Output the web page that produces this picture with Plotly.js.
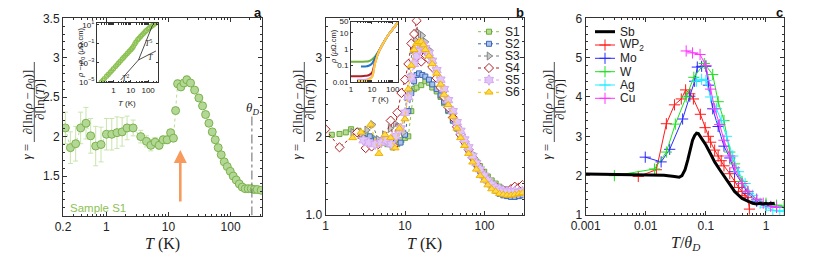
<!DOCTYPE html>
<html><head><meta charset="utf-8">
<script src="https://cdn.plot.ly/plotly-3.0.1.min.js"></script>
<style>html,body{margin:0;padding:0;background:#fff}</style>
</head><body><div id="chart" style="width:830px;height:257px"></div>
<script>
// ---------- Panel a : sample S1 ----------
const aT = [0.218,0.263,0.32,0.385,0.469,0.558,0.672,0.819,1.0,1.22,1.48,1.79,2.15,2.69,3.57,4.42,5.19,6.08,7.06,8.19,9.5,10.8,12.0,13.0,14.0,15.8,17.7,19.7,22.6,26.3,30.8,35.3,39.5,44.7,50.6,56.5,63.1,70.6,78.9,88.2,98.6,110,123,138,154,172,192,215,240,268,310];
const aG = [2.11,1.86,1.91,2.11,2.17,2.01,1.88,1.90,2.03,2.03,2.05,2.06,2.11,2.11,2.0,1.94,1.89,1.93,1.89,1.96,1.96,2.05,1.98,2.33,2.67,2.63,2.68,2.72,2.68,2.59,2.49,2.39,2.28,2.17,2.06,1.96,1.86,1.77,1.68,1.62,1.56,1.50,1.45,1.40,1.36,1.34,1.34,1.34,1.33,1.33,1.32];
const aErr = [0.2,0.2,0.22,0.2,0.2,0.22,0.25,0.22,0.2,0.2,0.2,0.18,0.15,0.1,0.08,0.07,0.07,0.06,0.05,0.05,0.05,0.04,0.04,0.04,0.05,0.04,0.04,0.05,0.04,0.02,0.02,0.02,0.02,0.02,0.02,0.02,0.02,0.02,0.02,0.02,0.02,0.02,0.02,0.02,0.02,0.02,0.02,0.02,0.02,0.02,0.02];
const thetaD = 220;
const thetaLineY = [1, 2.28];
// inset a : rho - rho0 vs T
const iaT = [0.2,0.25,0.3,0.4,0.5,0.65,0.8,1,1.3,1.6,2,2.5,3.2,4,5,6.3,8,10,12,14,17,20,25,30,37,45,55,67,80,100,120,150,180,220,260,300];
const iaR = [1e-5,1.6e-5,2.3e-5,4e-5,6.3e-5,1.05e-4,1.6e-4,2.5e-4,4.2e-4,6.4e-4,1e-3,1.6e-3,2.6e-3,4e-3,6.3e-3,1e-2,1.6e-2,2.5e-2,3.6e-2,5.5e-2,0.1,0.16,0.28,0.4,0.62,0.9,1.3,1.9,2.6,3.8,5.0,6.8,8.8,11.5,14.5,17.5];
const lineT2 = {T:[2.6,28], R:[1.6e-5,2.1e-3]};
const lineT5 = {T:[28,182], R:[2.1e-3,10]};
const lineT1 = {T:[28,282], R:[2.1e-3,1.8e-2]};

// ---------- Panel b : samples S1..S6 ----------
const bNames = ['S1','S2','S3','S4','S5','S6'];
const bT1 = [1.2,1.5,1.8,2.1,2.6,3.2,3.8,4.5,5.2,6,7,8,9,10,11,12,13,14,16,18,20,22,25,28,31,35,40,45,50,56,63,71,79,88,99,110,123,138,154,172,192,215,240,270,300];
const bG1 = [2.02,2.03,2.05,2.09,2.07,2.03,1.98,1.93,1.92,1.9,1.86,1.9,1.95,1.98,2.0,2.32,2.6,2.62,2.65,2.7,2.68,2.62,2.57,2.5,2.42,2.32,2.2,2.1,2.02,1.94,1.85,1.76,1.68,1.62,1.55,1.49,1.44,1.4,1.36,1.33,1.31,1.29,1.28,1.27,1.27];
const bT2 = [3,3.6,4.3,5,5.8,6.7,7.7,8.8,10,11,12,13,14,15,16.5,18,20,22,25,28,31,35,40,45,50,56,63,71,79,88,99,110,123,138,154,172,192,215,240,270,300];
const bG2 = [1.98,2.0,1.96,1.92,1.94,1.9,1.96,1.92,2.02,2.32,2.55,2.7,2.78,2.8,2.78,2.76,2.72,2.66,2.6,2.52,2.44,2.33,2.2,2.1,2.0,1.92,1.82,1.73,1.64,1.56,1.48,1.42,1.36,1.31,1.27,1.25,1.24,1.23,1.23,1.24,1.25];
const bT3 = [2.2,2.7,3.3,3.9,4.6,5.5,6.5,7.5,8.5,9.5,10.5,11.5,12.5,13.5,14.5,15.5,16.5,18,20,22,25,28,31,35,40,45,50,56,63,71,79,88,99,110,123,138,154,172,192,215,240,270,300];
const bG3 = [2.05,2.02,2.08,2.15,1.96,2.02,2.1,2.16,2.12,2.05,2.5,2.9,3.1,3.22,3.32,3.3,3.28,3.2,3.1,2.98,2.84,2.7,2.57,2.44,2.28,2.14,2.03,1.94,1.83,1.73,1.64,1.56,1.49,1.42,1.37,1.33,1.3,1.28,1.27,1.27,1.28,1.29,1.3];
const bT4 = [1.0,1.5,2.5,3.2,3.8,4.6,5.5,6.6,7.2,8,9,10,11,12,13,14,15,16,17,18.5,20,22,25,28,31,35,40,45,50,56,63,71,79,88,99,110,123,138,154,172,192,215,240,270,300];
const bG4 = [2.09,1.86,2.05,1.85,1.87,1.9,1.95,2.2,1.88,2.3,2.55,2.72,2.92,3.18,3.3,3.47,3.0,2.95,3.12,3.08,2.98,2.88,2.74,2.62,2.5,2.37,2.24,2.12,2.02,1.93,1.83,1.73,1.65,1.57,1.5,1.44,1.39,1.36,1.33,1.32,1.31,1.33,1.36,1.35,1.38];
const bT5 = [3,3.5,4.2,5,5.8,6.7,7.7,8.8,10,11,12,13,14,15,16,17,18,20,22,25,28,31,35,40,45,50,56,63,71,79,88,99,110,123,138,154,172,192,215,240,270,300];
const bG5 = [1.95,1.92,1.9,1.92,1.95,1.9,2.0,2.1,2.3,2.5,2.75,2.92,3.02,3.1,3.15,3.16,3.12,3.06,2.96,2.84,2.72,2.6,2.46,2.32,2.18,2.07,1.96,1.86,1.75,1.66,1.58,1.5,1.44,1.39,1.35,1.33,1.31,1.3,1.3,1.3,1.29,1.3];
const bT6 = [2.2,2.8,3.7,4.7,5.6,6.6,7.5,8.5,10,11,12,13,14,15,16,17,18,20,22,25,28,31,35,40,45,50,56,63,71,79,88,99,110,123,138,154,172,192,215,240,270,300];
const bG6 = [1.98,2.05,2.15,1.78,2.02,1.98,1.85,2.1,2.22,2.6,2.9,3.1,3.18,3.2,3.2,3.16,3.1,3.02,2.92,2.8,2.66,2.53,2.4,2.25,2.1,1.98,1.88,1.78,1.67,1.58,1.5,1.44,1.38,1.33,1.3,1.27,1.26,1.25,1.25,1.26,1.27,1.28];
// inset b : rho vs T
const ibT = [1,1.5,2,3,5,7,10,14,20,30,50,70,100,140,180];
const ibR1 = [0.17,0.17,0.17,0.17,0.175,0.18,0.23,0.35,0.7,1.7,5,9.5,17,30,48];
const ibR2 = [null,null,null,0.085,0.087,0.095,0.13,0.28,0.63,1.65,5,9.5,17,30,48];
const ibR3 = [null,null,0.012,0.012,0.012,0.014,0.02,0.13,0.56,1.6,5,9.5,17,30,48];
const ibR4 = [0.022,0.022,0.022,0.022,0.023,0.025,0.035,0.16,0.58,1.6,5,9.5,17,30,48];
const ibR5 = [null,null,0.013,0.013,0.013,0.015,0.02,0.13,0.56,1.6,5,9.5,17,30,48];
const ibR6 = [null,null,0.011,0.011,0.011,0.013,0.018,0.12,0.55,1.6,5,9.5,17,30,48];

// ---------- Panel c : comparison ----------
const cNames = ['Sb','WP<sub>2</sub>','Mo','W','Ag','Cu'];
const cSbX = [0.001,0.003,0.01,0.02,0.03,0.036,0.04,0.045,0.05,0.055,0.06,0.065,0.07,0.075,0.08,0.09,0.1,0.12,0.14,0.17,0.2,0.25,0.3,0.35,0.4,0.5,0.6,0.7,0.8,0.9,1.0,1.1,1.2,1.3,1.4];
const cSbY = [2.04,2.03,2.02,2.01,1.98,1.96,2.0,2.15,2.4,2.7,2.9,3.02,3.08,3.07,3.0,2.9,2.78,2.55,2.35,2.15,1.98,1.78,1.6,1.5,1.42,1.35,1.3,1.28,1.3,1.28,1.3,1.28,1.3,1.29,1.3];
const cWP2X = [0.0075,0.015,0.022,0.03,0.039,0.046,0.054,0.062,0.081,0.097,0.11,0.12,0.14,0.16,0.18,0.2,0.25,0.3,0.35,0.4,0.45,0.5,0.53];
const cWP2Y = [1.98,2.15,3.32,3.8,3.95,4.18,4.08,3.95,3.56,3.22,3.0,2.85,2.65,2.5,2.38,2.25,2.05,1.85,1.7,1.6,1.5,1.45,1.15];
const cMoX = [0.0098,0.018,0.025,0.041,0.054,0.065,0.072,0.085,0.1,0.11,0.13,0.16,0.2,0.25,0.3,0.4,0.5,0.7,1.0,1.5];
const cMoY = [2.47,2.35,2.67,3.44,4.02,4.4,4.76,4.78,4.78,4.3,3.7,3.25,2.75,2.45,2.1,1.8,1.55,1.35,1.25,1.2];
const cWX = [0.003,0.014,0.022,0.031,0.047,0.063,0.094,0.13,0.16,0.2,0.25,0.3,0.4,0.5,0.7,1.0,1.5,2.0];
const cWY = [2.0,2.17,2.6,3.31,4.0,4.5,4.85,4.57,3.88,3.4,2.6,2.3,1.85,1.6,1.4,1.3,1.25,1.22];
const cAgX = [0.07,0.085,0.1,0.12,0.15,0.18,0.22,0.28,0.35,0.45,0.6,0.8,1.0,1.3,1.7,2.0];
const cAgY = [4.4,4.45,4.42,4.0,3.7,3.4,3.0,2.5,2.1,1.8,1.5,1.3,1.2,1.12,1.1,1.1];
const cCuX = [0.047,0.06,0.08,0.1,0.12,0.14,0.17,0.2,0.25,0.3,0.4,0.5,0.7,0.9,1.2,1.5];
const cCuY = [5.17,5.12,5.08,4.8,4.2,3.7,3.3,2.9,2.5,2.2,1.8,1.6,1.4,1.3,1.22,1.2];

// ---------- styling ----------
const W = 830, H = 257;
const px = v => v / W, py = v => 1 - v / H;
const SANS = 'Liberation Sans, Arial, Helvetica, sans-serif';
const SERIF = 'Liberation Serif, Times New Roman, serif';
const AX = '#333';

function axis(extra) {
  return Object.assign({
    showline: true, linecolor: AX, linewidth: 1, mirror: 'ticks',
    ticks: 'inside', ticklen: 4, tickwidth: 1, tickcolor: AX,
    showgrid: false, zeroline: false, automargin: false, fixedrange: true,
    tickfont: {family: SANS, size: 12, color: '#222'}
  }, extra);
}
const minorLog = {ticks: 'inside', ticklen: 2, tickcolor: AX, dtick: 'D1', showgrid: false};

const traces = [];
// panel a
traces.push({x: aT, y: aG, xaxis: 'x', yaxis: 'y', mode: 'lines+markers',
  line: {color: '#b9dc98', width: 1, dash: 'dot'},
  marker: {symbol: 'circle', size: 8, color: '#b3d896', line: {color: '#7cb24c', width: 1}},
  error_y: {type: 'data', array: aErr, color: '#c9e4ad', thickness: 1, width: 2.5}});
traces.push({x: [thetaD, thetaD], y: thetaLineY, xaxis: 'x', yaxis: 'y', mode: 'lines',
  line: {color: '#666', width: 1, dash: 'dashdot'}});
// inset a
traces.push({x: iaT, y: iaR, xaxis: 'x4', yaxis: 'y4', mode: 'markers',
  marker: {symbol: 'circle-open', size: 4, color: '#8cc152', line: {width: 1.3}}});
[lineT2, lineT5, lineT1].forEach(l => traces.push({x: l.T, y: l.R, xaxis: 'x4', yaxis: 'y4', mode: 'lines', line: {color: '#222', width: 0.8}}));

// panel b
const bStyles = [
  {sym: 'square', size: 5, fill: '#b7dc92', edge: '#6aaa3a', line: '#8cc152'},
  {sym: 'square', size: 5, fill: '#a8c2ec', edge: '#3d67b6', line: '#3d67b6'},
  {sym: 'triangle-right', size: 7, fill: '#c9c9c9', edge: '#858585', line: '#7a7a7a'},
  {sym: 'diamond', size: 7, fill: 'rgba(255,255,255,0.9)', edge: '#b01f24', line: '#b01f24'},
  {sym: 'hexagram', size: 8, fill: '#e3c6f8', edge: '#d4a8f2', line: '#d4a8f2'},
  {sym: 'triangle-up', size: 7, fill: '#ffd94d', edge: '#f0b400', line: '#f5c400'}
];
const bData = [[bT1,bG1],[bT2,bG2],[bT3,bG3],[bT4,bG4],[bT5,bG5],[bT6,bG6]];
bData.forEach((d, i) => {
  const s = bStyles[i];
  traces.push({x: d[0], y: d[1], xaxis: 'x2', yaxis: 'y2', mode: 'lines+markers',
    line: {color: s.line, width: 1, dash: 'dot'},
    marker: {symbol: s.sym, size: s.size, color: s.fill, line: {color: s.edge, width: 1}}});
});
// inset b
const ibColors = ['#6fb23e', '#1f77c8', '#a9a9a9', '#b01f2a', '#d6a2f0', '#ffcc33'];
[ibR1, ibR2, ibR3, ibR4, ibR5, ibR6].forEach((r, i) => traces.push({x: ibT, y: r, xaxis: 'x5', yaxis: 'y5',
  mode: 'lines', line: {color: ibColors[i], width: 2, shape: 'spline'}}));

// panel c
const cStyles = [
  {c: '#ff1a1a', x: cWP2X, y: cWP2Y},
  {c: '#2b2bff', x: cMoX, y: cMoY},
  {c: '#1fe01f', x: cWX, y: cWY},
  {c: '#22eeff', x: cAgX, y: cAgY},
  {c: '#ff33ff', x: cCuX, y: cCuY}
];
cStyles.forEach(s => traces.push({x: s.x, y: s.y, xaxis: 'x3', yaxis: 'y3', mode: 'lines+markers',
  line: {color: s.c, width: 1}, marker: {symbol: 'cross-thin', size: 8, color: s.c, line: {color: s.c, width: 1}}}));
traces.push({x: cSbX, y: cSbY, xaxis: 'x3', yaxis: 'y3', mode: 'lines', line: {color: '#000', width: 3}});

// legend keys (pixel helper axes)
const bLegY = [31.7, 43.8, 56, 68, 80, 92.3];
bStyles.forEach((s, i) => traces.push({x: [478, 489, 500], y: [bLegY[i], bLegY[i], bLegY[i]], xaxis: 'x6', yaxis: 'y6',
  mode: 'lines+markers', line: {color: s.line, width: 1, dash: 'dot'},
  marker: {symbol: s.sym, size: s.size, color: s.fill, opacity: [0, 1, 0], line: {color: s.edge, width: 1}}}));
const cLegY = [31.7, 45, 58.3, 71.7, 85, 98.3];
traces.push({x: [595, 615], y: [cLegY[0], cLegY[0]], xaxis: 'x6', yaxis: 'y6', mode: 'lines', line: {color: '#000', width: 3}});
cStyles.forEach((s, i) => traces.push({x: [595, 605, 615], y: [cLegY[i+1], cLegY[i+1], cLegY[i+1]], xaxis: 'x6', yaxis: 'y6',
  mode: 'lines+markers', line: {color: s.c, width: 1},
  marker: {symbol: 'cross-thin', size: 8, color: s.c, opacity: [0, 1, 0], line: {color: s.c, width: 1}}}));

const annotations = [];
function ann(x, y, text, o) {
  annotations.push(Object.assign({xref: 'paper', yref: 'paper', x: px(x), y: py(y), text: text, showarrow: false,
    xanchor: 'center', yanchor: 'middle',
    font: {family: SERIF, size: 13, color: '#222'}}, o || {}));
}
const shapes = [];
function yTitle(xg, xn, xb, xd) {
  ann(xg, 152, '<i>γ</i> =', {textangle: -90});
  ann(xn, 102, '∂[ln(<i>ρ</i> − <i>ρ</i><sub>0</sub>)]', {textangle: -90});
  ann(xd, 100, '∂[ln(<i>T</i>)]', {textangle: -90});
  shapes.push({type: 'line', xref: 'paper', yref: 'paper', x0: px(xb), x1: px(xb), y0: py(62), y1: py(142), line: {color: '#222', width: 0.8}});
}
yTitle(25.5, 28.5, 34.3, 40);
yTitle(295.5, 298.5, 304.3, 310);
yTitle(545.5, 548.5, 554.3, 560);
// x titles
ann(162.5, 244, '<i>T</i> (K)', {font: {family: SERIF, size: 16, color: '#222'}});
ann(424, 243.5, '<i>T</i> (K)', {font: {family: SERIF, size: 16, color: '#222'}});
ann(685, 243.5, '<i>T</i>/<i>θ</i><sub><i>D</i></sub>', {font: {family: SERIF, size: 16, color: '#222'}});
// panel letters
['a', 'b', 'c'].forEach((t, i) => ann([258, 520, 779][i], 12, '<b>' + t + '</b>', {font: {family: SANS, size: 13, color: '#111'}}));
// panel a extras
ann(252.7, 108, '<i>θ</i><sub><i>D</i></sub>', {font: {family: SERIF, size: 13, color: '#222'}});
ann(68, 208, 'Sample S1', {xanchor: 'left', font: {family: SANS, size: 11.5, color: '#8dc153'}});
annotations.push({xref: 'paper', yref: 'paper', x: px(180.3), y: py(150), ax: 0, ay: 53, axref: 'pixel', ayref: 'pixel',
  showarrow: true, arrowhead: 2, arrowsize: 1, arrowwidth: 2.6, arrowcolor: '#f79a5e', text: ''});
// inset a labels
ann(125, 78, '<i>T</i><sup>2</sup>', {font: {family: SERIF, size: 8, color: '#222'}});
ann(148.5, 43, '<i>T</i><sup>5</sup>', {font: {family: SERIF, size: 8, color: '#222'}});
ann(150, 58, '<i>T</i>', {font: {family: SERIF, size: 8, color: '#222'}});
ann(127, 103, '<i>T</i> (K)', {font: {family: SANS, size: 8, color: '#222'}});
ann(81, 53, '<i>ρ</i> − <i>ρ</i><sub>0</sub> (<i>μ</i>Ω.cm)', {textangle: -90, font: {family: SANS, size: 7.5, color: '#222'}});
// inset b labels
ann(380, 100, '<i>T</i> (K)', {font: {family: SANS, size: 8, color: '#222'}});
ann(333, 47, '<i>ρ</i> (<i>μ</i>Ω.cm)', {textangle: -90, font: {family: SANS, size: 7.5, color: '#222'}});
// legends text
bNames.forEach((n, i) => ann(503, bLegY[i], n, {xanchor: 'left', font: {family: SANS, size: 12, color: '#222'}}));
cNames.forEach((n, i) => ann(618, cLegY[i], n, {xanchor: 'left', font: {family: SANS, size: 12, color: '#222'}}));

const insetTick = {family: SANS, size: 8, color: '#222'};
const layout = {
  width: W, height: H, margin: {l: 0, r: 0, t: 0, b: 0},
  paper_bgcolor: '#fff', plot_bgcolor: 'rgba(0,0,0,0)', showlegend: false,
  xaxis: axis({domain: [px(63), px(262)], anchor: 'y', type: 'log', range: [Math.log10(0.2), 2.505],
    tickvals: [0.2, 1, 10, 100], ticktext: ['0.2', '1', '10', '100'], minor: minorLog}),
  yaxis: axis({domain: [py(215.5), py(18.3)], anchor: 'x', range: [1, 3.5],
    tickvals: [1.5, 2, 2.5, 3, 3.5], ticktext: ['1.5', '2', '2.5', '3', '3.5'],
    minor: {ticks: 'inside', ticklen: 2, tickcolor: AX, tick0: 1, dtick: 0.1}}),
  xaxis2: axis({domain: [px(325.5), px(523.5)], anchor: 'y2', type: 'log', range: [0, 2.49],
    tickvals: [1, 10, 100], ticktext: ['1', '10', '100'], minor: minorLog}),
  yaxis2: axis({domain: [py(215), py(18.3)], anchor: 'x2', range: [1, 3.5],
    tickvals: [1, 2, 3], ticktext: ['1.0', '2', '3'],
    minor: {ticks: 'inside', ticklen: 2, tickcolor: AX, tick0: 1, dtick: 0.2}}),
  xaxis3: axis({domain: [px(585.7), px(784)], anchor: 'y3', type: 'log', range: [-3, 0.3],
    tickvals: [0.001, 0.01, 0.1, 1], ticktext: ['0.001', '0.01', '0.1', '1'], minor: minorLog}),
  yaxis3: axis({domain: [py(215), py(18.3)], anchor: 'x3', range: [1, 6], dtick: 1,
    minor: {ticks: 'inside', ticklen: 2, tickcolor: AX, tick0: 1, dtick: 0.2}}),
  xaxis4: axis({domain: [px(97), px(158)], anchor: 'y4', type: 'log', range: [-0.95, 2.57],
    tickvals: [0.1, 1, 10, 100], ticktext: ['0.1', '1', '10', '100'], ticklen: 2, tickfont: insetTick,
    minor: {ticks: 'inside', ticklen: 1.5, tickcolor: AX, dtick: 'D1'}}),
  yaxis4: axis({domain: [py(82), py(23)], anchor: 'x4', type: 'log', range: [-5, 1.2],
    tickvals: [1e-5, 1e-3, 1e-1, 10], ticktext: ['10<sup>−5</sup>', '10<sup>−3</sup>', '10<sup>−1</sup>', '10<sup>1</sup>'],
    ticklen: 2, tickfont: insetTick}),
  xaxis5: axis({domain: [px(351), px(398)], anchor: 'y5', type: 'log', range: [0, 2.25],
    tickvals: [1, 10, 100], ticktext: ['1', '10', '100'], ticklen: 2, tickfont: insetTick,
    minor: {ticks: 'inside', ticklen: 1.5, tickcolor: AX, dtick: 'D1'}}),
  yaxis5: axis({domain: [py(81.7), py(21.5)], anchor: 'x5', type: 'log', range: [-2, 1.7],
    tickvals: [0.01, 0.1, 1, 10, 50], ticktext: ['0.01', '0.1', '1', '10', '50'], ticklen: 2, tickfont: insetTick}),
  xaxis6: {domain: [0, 1], anchor: 'y6', range: [0, W], visible: false, fixedrange: true},
  yaxis6: {domain: [0, 1], anchor: 'x6', range: [H, 0], visible: false, fixedrange: true},
  annotations: annotations, shapes: shapes
};
Plotly.newPlot('chart', traces, layout, {displayModeBar: false, staticPlot: true});
</script></body></html>
